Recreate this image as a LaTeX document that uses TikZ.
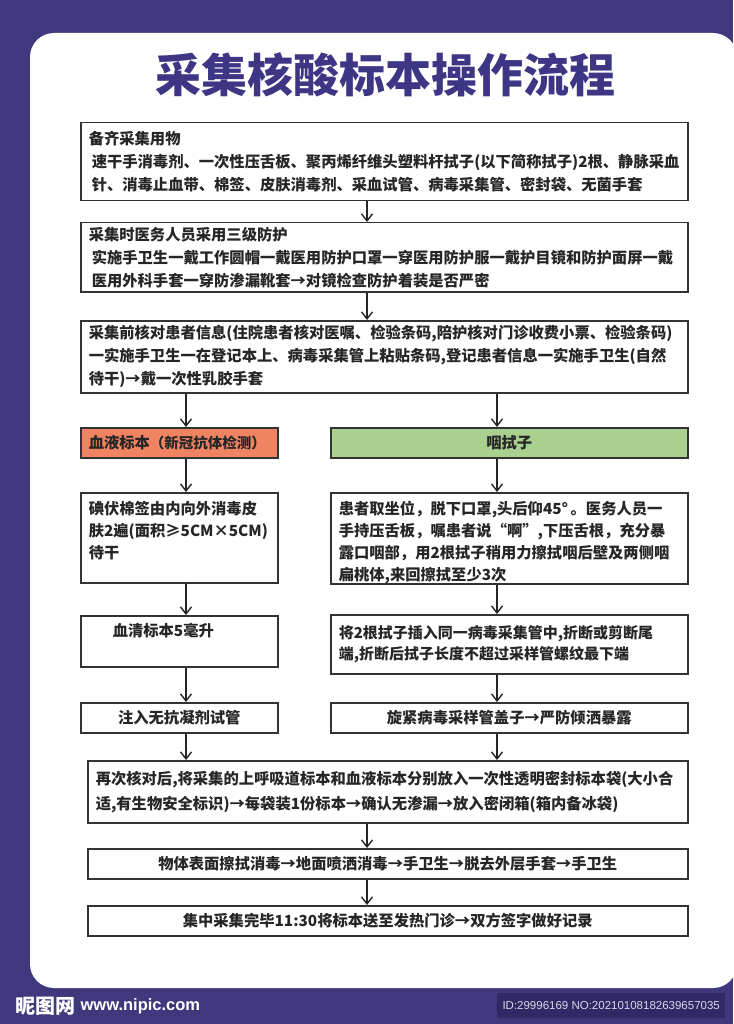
\documentclass[tikz,border=0pt]{standalone}
\usepackage{fontspec}
\setmainfont{Noto Sans CJK SC}
\newfontfamily\latinfont{Liberation Sans}
\usetikzlibrary{arrows.meta,positioning}
\definecolor{framec}{HTML}{3F387C}
\definecolor{titlec}{HTML}{3D3684}
\definecolor{idboxc}{HTML}{2F2A66}
\definecolor{bloodc}{HTML}{F08462}
\definecolor{swabc}{HTML}{A9D08E}
\tikzset{
  stepbox/.style={draw=black!80, line width=1.5pt, inner xsep=8pt, inner ysep=0pt,
    anchor=north west, align=left, text=black!85,
    font=\fontsize{15.3}{23}\selectfont\bfseries},
  arr/.style={-{Straight Barb[length=7pt,width=11pt]}, line width=1.4pt, black!85},
}

\begin{document}
\begin{tikzpicture}[x=1pt,y=-1pt]
\useasboundingbox (0,0) rectangle (733,1024);
% background and panel
\fill[framec] (0,0) rectangle (733,1024);
\fill[white, rounded corners=24pt] (30,33) rectangle (737,988);
\node[font=\fontsize{46}{46}\selectfont\bfseries, text=titlec] (title) at (385,75) {采集核酸标本操作流程};

% common steps
\node[stepbox, text width=591pt, minimum height=78pt] (prep) at (80,122)
  {备齐采集用物\\
   \hspace*{3pt}速干手消毒剂、一次性压舌板、聚丙烯纤维头塑料杆拭子(以下简称拭子)2根、静脉采血\\
   \hspace*{3pt}针、消毒止血带、棉签、皮肤消毒剂、采血试管、病毒采集管、密封袋、无菌手套};
\node[stepbox, text width=591pt, minimum height=69pt] (guard) at (80,222)
  {采集时医务人员采用三级防护\\
   \hspace*{3pt}实施手卫生一戴工作圆帽一戴医用防护口罩一穿医用防护服一戴护目镜和防护面屏一戴\\
   \hspace*{3pt}医用外科手套一穿防渗漏靴套→对镜检查防护着装是否严密};
\node[stepbox, text width=591pt, minimum height=72pt] (check) at (80,320)
  {采集前核对患者信息(住院患者核对医嘱、检验条码,陪护核对门诊收费小票、检验条码)\\
   一实施手卫生一在登记本上、病毒采集管上粘贴条码,登记患者信息一实施手卫生(自然\\
   待干)→戴一次性乳胶手套};

% two columns
\node[stepbox, fill=bloodc, text width=181pt, minimum height=30pt] (blood) at (80,427)
  {血液标本{\fontsize{14.5}{14.5}\selectfont（新冠抗体检测）}};
\node[stepbox, fill=swabc, text width=341pt, minimum height=30pt, align=center] (swab) at (330,427)
  {咽拭子};

\node[stepbox, text width=181pt, minimum height=90pt, font=\fontsize{15.3}{22}\selectfont\bfseries] (disinf) at (80,492)
  {碘伏棉签由内向外消毒皮\\
   肤2遍(面积≥5CM×5CM)\\
   待干\rule[-16pt]{0pt}{0pt}};
\node[stepbox, text width=341pt, minimum height=90pt, font=\fontsize{15.3}{22}\selectfont\bfseries] (throat) at (330,492)
  {\rule{0pt}{22pt}患者取坐位，脱下口罩,头后仰45°\,。医务人员一\\
   手持压舌板，嘱患者说“啊”,下压舌根，充分暴\\
   露口咽部，用2根拭子稍用力擦拭咽后壁及两侧咽\\
   扁桃体,来回擦拭至少3次};

\node[stepbox, text width=181pt, minimum height=51pt] (serum) at (80,615)
  {\hspace*{24pt}血清标本5毫升\\ \mbox{}};
\node[stepbox, text width=341pt, minimum height=59pt, font=\fontsize{15}{21}\selectfont\bfseries] (insert) at (330,614)
  {将2根拭子插入同一病毒采集管中,折断或剪断尾\\
   端,折断后拭子长度不超过采样管螺纹最下端};

\node[stepbox, text width=181pt, minimum height=30pt, align=center] (tube) at (80,702)
  {注入无抗凝剂试管};
\node[stepbox, text width=341pt, minimum height=30pt, align=center] (cap) at (330,702)
  {旋紧病毒采样管盖子→严防倾洒暴露};

% closing steps
\node[stepbox, text width=584pt, minimum height=62pt, font=\fontsize{15.3}{25}\selectfont\bfseries] (pack) at (87,760)
  {再次核对后,将采集的上呼吸道标本和血液标本分别放入一次性透明密封标本袋(大小合\\
   适,有生物安全标识)→每袋装1份标本→确认无渗漏→放入密闭箱(箱内备冰袋)};
\node[stepbox, text width=584pt, minimum height=30pt, align=center] (clean) at (87,848)
  {物体表面擦拭消毒→地面喷洒消毒→手卫生→脱去外层手套→手卫生};
\node[stepbox, text width=584pt, minimum height=30pt, align=center] (send) at (87,905)
  {集中采集完毕11:30将标本送至发热门诊→双方签字做好记录};

% connectors
\coordinate (mx) at (367,0);
\coordinate (lx) at (186,0);
\coordinate (rx) at (497,0);
\draw[arr] (prep.south -| mx) -- (guard.north -| mx);
\draw[arr] (guard.south -| mx) -- (check.north -| mx);
\draw[arr] (check.south -| lx) -- (blood.north -| lx);
\draw[arr] (check.south -| rx) -- (swab.north -| rx);
\draw[arr] (blood.south -| lx) -- (disinf.north -| lx);
\draw[arr] (swab.south -| rx) -- (throat.north -| rx);
\draw[arr] (disinf.south -| lx) -- (serum.north -| lx);
\draw[arr] (throat.south -| rx) -- (insert.north -| rx);
\draw[arr] (serum.south -| lx) -- (tube.north -| lx);
\draw[arr] (insert.south -| rx) -- (cap.north -| rx);
\draw[arr] (tube.south -| lx) -- (pack.north -| lx);
\draw[arr] (cap.south -| rx) -- (pack.north -| rx);
\draw[arr] (pack.south -| mx) -- (clean.north -| mx);
\draw[arr] (clean.south -| mx) -- (send.north -| mx);

% footer
\node[font=\fontsize{20}{20}\selectfont\bfseries, text=white, anchor=west, inner sep=0pt] (logo) at (15,1006) {昵图网};
\node[font=\latinfont\bfseries\fontsize{16.5}{16.5}\selectfont, text=white, anchor=west, inner xsep=5pt] (site) at (logo.east) {www.nipic.com};
\node[fill=idboxc, text=white!80!framec, font=\latinfont\fontsize{11.5}{11.5}\selectfont,
  minimum width=228pt, minimum height=25pt, inner sep=0pt, anchor=north west] (idtag) at (497,993)
  {ID:29996169 NO:20210108182639657035};
\end{tikzpicture}
\end{document}
